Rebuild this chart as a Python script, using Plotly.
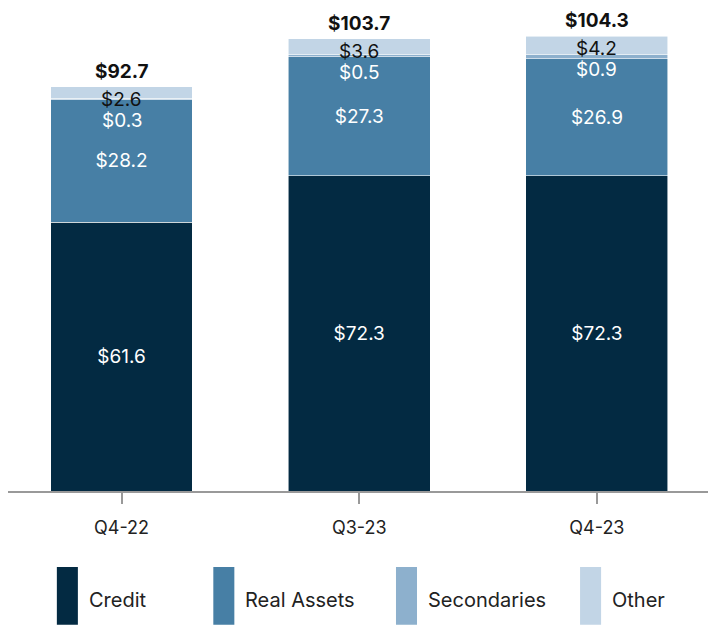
import plotly.graph_objects as go

quarters = ["Q4-22", "Q3-23", "Q4-23"]
credit = [61.6, 72.3, 72.3]
real_assets = [28.2, 27.3, 26.9]
secondaries = [0.3, 0.5, 0.9]
other = [2.6, 3.6, 4.2]
totals = [92.7, 103.7, 104.3]

series_names = ["Credit", "Real Assets", "Secondaries", "Other"]
series_values = [credit, real_assets, secondaries, other]
colors = ["#032a42", "#477fa5", "#8db0cd", "#c2d5e6"]

FONT = "Inter"

def money(v):
    return f"${v:.1f}"

fig = go.Figure()
for name, vals, col in zip(series_names, series_values, colors):
    show_text = name in ("Credit", "Real Assets")
    fig.add_trace(go.Bar(
        x=quarters, y=vals, name=name,
        marker=dict(color=col, line=dict(color="rgba(255,255,255,0.7)", width=0.8)),
        text=[money(v) for v in vals] if show_text else None,
        textposition="inside" if show_text else "none",
        insidetextanchor="middle",
        textfont=dict(color="white", size=19, family=FONT),
        hoverinfo="skip",
    ))

annotations = []
for i, q in enumerate(quarters):
    # total label above bar
    annotations.append(dict(
        x=q, y=totals[i], xref="x", yref="y", yanchor="bottom", yshift=2,
        text=f"<b>{money(totals[i])}</b>", showarrow=False,
        font=dict(size=19, color="#111", family=FONT)))
    # Other label at top of bar
    annotations.append(dict(
        x=q, y=totals[i], xref="x", yref="y", yanchor="top", yshift=1,
        text=money(other[i]), showarrow=False,
        font=dict(size=19, color="#111", family=FONT)))
    # Secondaries label just below the Other label
    annotations.append(dict(
        x=q, y=totals[i], xref="x", yref="y", yanchor="top", yshift=-20,
        text=money(secondaries[i]), showarrow=False,
        font=dict(size=19, color="white", family=FONT)))

# custom legend: tall narrow swatches with labels
legend_x = [0.069, 0.290, 0.548, 0.808]
shapes = []
for name, col, lx in zip(series_names, colors, legend_x):
    shapes.append(dict(type="rect", xref="paper", yref="paper",
                       x0=lx, x1=lx + 0.0297, y0=-0.289, y1=-0.164,
                       fillcolor=col, line=dict(width=0)))
    annotations.append(dict(x=lx + 0.042, y=-0.235, xref="paper", yref="paper",
                            xanchor="left", yanchor="middle", text=name, showarrow=False,
                            font=dict(size=20, color="#222", family=FONT)))

fig.update_layout(
    barmode="stack",
    bargap=0.403,
    width=708, height=617,
    margin=dict(l=0, r=0, t=20, b=134),
    paper_bgcolor="white", plot_bgcolor="white",
    showlegend=False,
    annotations=annotations,
    shapes=shapes,
    font=dict(family=FONT, color="#222"),
    xaxis=dict(showline=True, linecolor="#999", linewidth=2,
               ticks="outside", ticklen=11, tickcolor="#999", tickwidth=2,
               ticklabelstandoff=8,
               tickfont=dict(size=18, color="#222", family=FONT), showgrid=False,
               range=[-0.4775, 2.501]),
    yaxis=dict(visible=False, range=[0, 106.2], showgrid=False, zeroline=False),
)

fig.write_html("out.html")
